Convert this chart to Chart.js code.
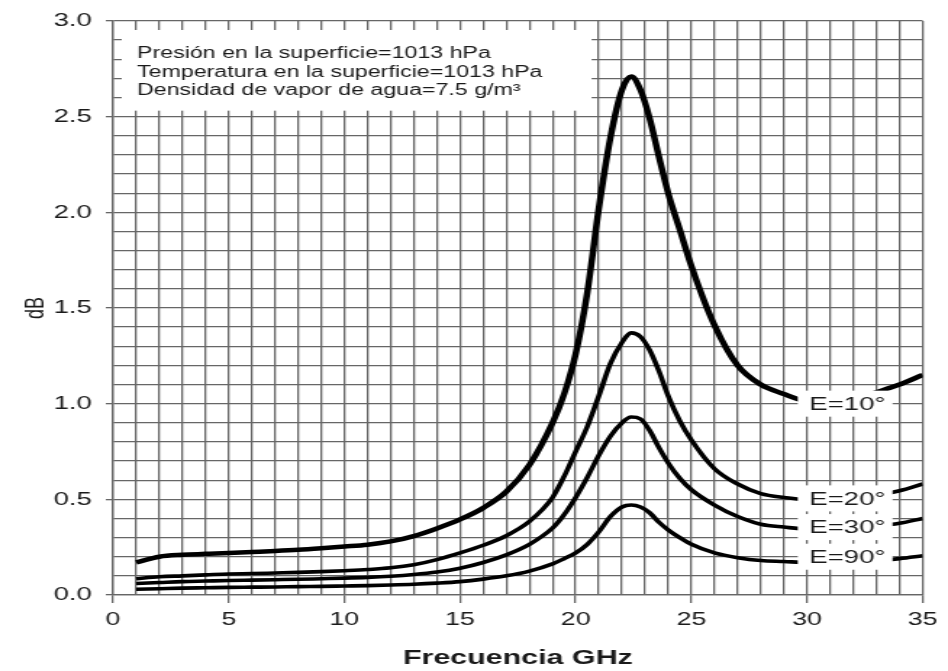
<!DOCTYPE html>
<html>
<head>
<meta charset="utf-8">
<title>Atenuación por vapor de agua</title>
<script src="https://cdn.jsdelivr.net/npm/chart.js@4.4.1/dist/chart.umd.min.js"></script>
<style>
  html, body { margin: 0; padding: 0; background: #fff; }
</style>
</head>
<body>
<!-- the original figure is stretched sideways, so the canvas is drawn narrow and widened -->
<canvas id="chart" width="654" height="671" style="display:block;width:948px;height:671px"></canvas>
<script>
// --- data ---
const freq = [1, 2, 3, 4, 5, 6, 7, 8, 9, 10, 11, 12, 13, 14, 15, 16, 17, 18, 19, 19.5, 20, 20.5, 21, 21.5, 22, 22.4, 22.8, 23.2, 23.6, 24, 24.5, 25, 26, 27, 28, 29, 30, 31, 32, 33, 34, 35];

const e10 = [0.17, 0.20, 0.21, 0.215, 0.22, 0.225, 0.23, 0.236, 0.244, 0.253, 0.263, 0.28, 0.308, 0.348, 0.395, 0.455, 0.54, 0.68, 0.90, 1.05, 1.26, 1.58, 2.02, 2.39, 2.64, 2.71, 2.64, 2.49, 2.29, 2.10, 1.91, 1.72, 1.41, 1.20, 1.10, 1.05, 1.01, 1.00, 1.02, 1.06, 1.10, 1.15];
const e20 = [0.085, 0.095, 0.10, 0.105, 0.11, 0.112, 0.115, 0.118, 0.122, 0.127, 0.133, 0.142, 0.158, 0.185, 0.22, 0.26, 0.31, 0.385, 0.51, 0.62, 0.75, 0.88, 1.04, 1.21, 1.32, 1.37, 1.35, 1.28, 1.17, 1.04, 0.91, 0.81, 0.66, 0.58, 0.53, 0.51, 0.50, 0.50, 0.51, 0.52, 0.545, 0.58];
const e30 = [0.06, 0.065, 0.07, 0.073, 0.076, 0.078, 0.08, 0.082, 0.085, 0.088, 0.092, 0.098, 0.107, 0.12, 0.14, 0.17, 0.21, 0.265, 0.35, 0.42, 0.51, 0.615, 0.73, 0.83, 0.90, 0.93, 0.92, 0.86, 0.77, 0.69, 0.61, 0.55, 0.47, 0.41, 0.37, 0.355, 0.345, 0.345, 0.35, 0.36, 0.375, 0.40];
const e90 = [0.03, 0.033, 0.036, 0.038, 0.04, 0.041, 0.042, 0.044, 0.045, 0.047, 0.049, 0.052, 0.056, 0.062, 0.07, 0.083, 0.10, 0.125, 0.163, 0.19, 0.22, 0.265, 0.33, 0.41, 0.46, 0.47, 0.46, 0.43, 0.38, 0.34, 0.30, 0.265, 0.22, 0.195, 0.18, 0.175, 0.17, 0.17, 0.172, 0.178, 0.19, 0.205];

const seriesNames = ['E=10°', 'E=20°', 'E=30°', 'E=90°'];
const labelDb = [1.0, 0.505, 0.355, 0.2];      // where each curve label sits (dB)
const xLabelStep = 5;                          // GHz between numbered ticks
const yLabelStep = 0.5;                        // dB between numbered ticks
const notes = [
    'Presión en la superficie=1013 hPa',
    'Temperatura en la superficie=1013 hPa',
    'Densidad de vapor de agua=7.5 g/m³'
];

const FONT = '"Liberation Sans", Arial, Helvetica, sans-serif';
const TEXT = '#1a1a1a';
const GRID = '#666666';

// white panel with the surface conditions in the upper left corner
const noteBox = {
    id: 'noteBox',
    beforeDatasetsDraw(chart) {
        const { ctx, scales: { x, y } } = chart;
        const l = x.getPixelForValue(0), r = x.getPixelForValue(21);
        const t = y.getPixelForValue(3), b = y.getPixelForValue(2.5);
        ctx.save();
        ctx.fillStyle = '#fff';
        // leave short stubs of the grid along each edge of the panel
        ctx.fillRect(l + 6, t + 9, (r - 5) - (l + 6), (b - 6) - (t + 9));
        ctx.fillStyle = TEXT;
        ctx.font = `16px ${FONT}`;
        ctx.textBaseline = 'middle';
        notes.forEach((line, i) => ctx.fillText(line, l + 16.5, t + 33 + i * 18.5));
        ctx.restore();
    }
};

// curve names on white patches that break the lines on the right
const curveLabels = {
    id: 'curveLabels',
    afterDatasetsDraw(chart) {
        const { ctx, scales: { x, y } } = chart;
        const x0 = x.getPixelForValue(29.6), x1 = x.getPixelForValue(33.7);
        ctx.save();
        ctx.font = `19px ${FONT}`;
        ctx.textBaseline = 'middle';
        chart.data.datasets.forEach((ds, i) => {
            const yc = y.getPixelForValue(labelDb[i]);
            ctx.fillStyle = '#fff';
            ctx.fillRect(x0, yc - 13, x1 - x0, 26);
            ctx.fillStyle = TEXT;
            ctx.fillText(ds.label, x.getPixelForValue(30.1), yc + 1);
        });
        ctx.restore();
    }
};

const series = [e10, e20, e30, e90];
const datasets = series.map((vals, i) => ({
    label: seriesNames[i],
    data: freq.map((f, j) => ({ x: f, y: vals[j] })),
    borderColor: '#000',
    borderWidth: i === 0 ? 4.5 : 3.6,
    pointRadius: 0,
    fill: false,
    cubicInterpolationMode: 'monotone'
}));

new Chart(document.getElementById('chart'), {
    type: 'line',
    data: { datasets },
    options: {
        responsive: false,
        animation: false,
        devicePixelRatio: 1,
        layout: { padding: { top: 16, right: 17.5, bottom: 0, left: 0 } },
        plugins: {
            legend: { display: false },
            tooltip: { enabled: false }
        },
        scales: {
            x: {
                type: 'linear',
                min: 0,
                max: 35,
                afterFit: s => { s.height = 76; },
                ticks: {
                    stepSize: 1,
                    autoSkip: false,
                    maxRotation: 0,
                    padding: 6,
                    color: TEXT,
                    font: { family: FONT, size: 18.5 },
                    callback: v => (v % xLabelStep === 0 ? String(v) : '')
                },
                grid: {
                    color: GRID,
                    lineWidth: 1.3,
                    tickLength: 8,
                    tickColor: c => (c.tick && c.tick.value % xLabelStep === 0 ? GRID : 'rgba(0,0,0,0)')
                },
                border: { color: GRID, width: 1.3 },
                title: {
                    display: true,
                    text: 'Frecuencia GHz',
                    color: TEXT,
                    font: { family: FONT, size: 21, weight: 'bold', lineHeight: 0.85 },
                    padding: { top: 0, bottom: 4 }
                }
            },
            y: {
                min: 0,
                max: 3,
                afterFit: s => { s.width = 78; },
                ticks: {
                    stepSize: 0.1,
                    autoSkip: false,
                    padding: 9.6,
                    color: TEXT,
                    font: { family: FONT, size: 19 },
                    callback: v => (Math.round(v * 10) % Math.round(yLabelStep * 10) === 0 ? v.toFixed(1) : '')
                },
                grid: {
                    color: GRID,
                    lineWidth: 1.3,
                    tickLength: 5,
                    tickColor: c => (c.tick && Math.round(c.tick.value * 10) % Math.round(yLabelStep * 10) === 0 ? GRID : 'rgba(0,0,0,0)')
                },
                border: { color: GRID, width: 1.3 },
                title: {
                    display: true,
                    text: 'dB',
                    color: TEXT,
                    font: { family: FONT, size: 18 },
                    padding: { top: 14.7, bottom: 0 }
                }
            }
        }
    },
    plugins: [noteBox, curveLabels]
});
</script>
</body>
</html>
